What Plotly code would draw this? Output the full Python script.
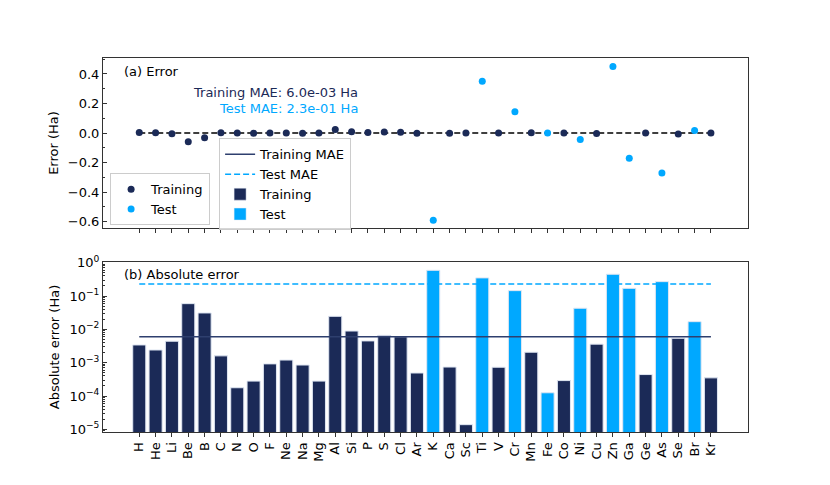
import numpy as np
import plotly.graph_objects as go
from plotly.subplots import make_subplots

# data
elements = ["H", "He", "Li", "Be", "B", "C", "N", "O", "F", "Ne", "Na", "Mg",
            "Al", "Si", "P", "S", "Cl", "Ar", "K", "Ca", "Sc", "Ti", "V", "Cr",
            "Mn", "Fe", "Co", "Ni", "Cu", "Zn", "Ga", "Ge", "As", "Se", "Br", "Kr"]
errors = [0.0034, 0.0024, -0.0044, -0.059, -0.031, 0.0016, 0.000177, -0.00028,
          0.00092, 0.0012, -0.00085, 0.00028, 0.0246, 0.0089, 0.0045, 0.0066,
          0.0060, -0.00049, -0.59, -0.00074, 0.0000138, 0.35, 0.00073, 0.145,
          0.00206, 0.000125, 0.00029, -0.043, -0.0036, 0.45, -0.17, 0.00044,
          -0.27, -0.0054, 0.017, 0.00035]
test_set = ["K", "Ti", "Cr", "Fe", "Ni", "Zn", "Ga", "As", "Br"]
train_mae = 6.0e-3
test_mae = 2.3e-1

navy = "#1b2a57"
light = "#00a8ff"
font = "DejaVu Sans"

abs_err = np.abs(errors)
is_test = np.array([e in test_set for e in elements])
el = np.array(elements)
err = np.array(errors)

fig = make_subplots(rows=2, cols=1)

# (a) signed error
fig.add_trace(go.Scatter(x=[elements[0], elements[-1]], y=[0, 0], mode="lines",
                         line=dict(color="black", dash="6px,3px", width=1.5),
                         showlegend=False, hoverinfo="skip"), row=1, col=1)
fig.add_trace(go.Scatter(x=el[~is_test], y=err[~is_test], mode="markers", name="Training",
                         marker=dict(color=navy, size=7), legend="legend"), row=1, col=1)
fig.add_trace(go.Scatter(x=el[is_test], y=err[is_test], mode="markers", name="Test",
                         marker=dict(color=light, size=7), legend="legend"), row=1, col=1)

# (b) absolute error
bar_cols = [light if t else navy for t in is_test]
fig.add_trace(go.Bar(x=elements, y=abs_err, marker=dict(color=bar_cols, line=dict(color="#dfe6f2", width=1)),
                     width=0.8, showlegend=False), row=2, col=1)
fig.add_trace(go.Scatter(x=[elements[0], elements[-1]], y=[train_mae, train_mae], mode="lines",
                         name="Training MAE", line=dict(color="#2e3f6e", width=1.5),
                         legend="legend2"), row=2, col=1)
fig.add_trace(go.Scatter(x=[elements[0], elements[-1]], y=[test_mae, test_mae], mode="lines",
                         name="Test MAE", line=dict(color=light, width=1.5, dash="6px,3px"),
                         legend="legend2"), row=2, col=1)
# legend-only bar entries
fig.add_trace(go.Bar(x=[None], y=[None], name="Training", marker_color=navy,
                     legend="legend2"), row=2, col=1)
fig.add_trace(go.Bar(x=[None], y=[None], name="Test", marker_color=light,
                     legend="legend2"), row=2, col=1)

xrange = [-2.22, 37.27]
frame = dict(showline=True, linecolor="#333", linewidth=1, mirror=True, showgrid=False, zeroline=False)

fig.update_xaxes(range=xrange, categoryorder="array", categoryarray=elements,
                 tickmode="array", tickvals=elements, ticks="outside", ticklen=4,
                 tickcolor="#333", **frame)
fig.update_xaxes(showticklabels=False, row=1, col=1)
fig.update_xaxes(tickangle=-90, tickfont=dict(size=13, color="black"), row=2, col=1)

top_ticks = [0.4, 0.2, 0.0, -0.2, -0.4, -0.6]
top_text = ["%.1f" % v if v >= 0 else "\u2212%.1f" % -v for v in top_ticks]
fig.update_yaxes(range=[-0.642, 0.508], tickvals=top_ticks, ticktext=top_text,
                 ticks="inside", ticklen=4, tickcolor="#333",
                 minor=dict(ticks="inside", ticklen=2, dtick=0.1, tickcolor="#333"),
                 tickfont=dict(size=13, color="black"),
                 title=dict(text="Error (Ha)", font=dict(size=13, color="black"), standoff=6),
                 row=1, col=1, **frame)

log_ticks = [1, 1e-1, 1e-2, 1e-3, 1e-4, 1e-5]
log_text = ["10<sup>0</sup>", "10<sup>\u22121</sup>", "10<sup>\u22122</sup>",
            "10<sup>\u22123</sup>", "10<sup>\u22124</sup>", "10<sup>\u22125</sup>"]
fig.update_yaxes(type="log", range=[-5.08, 0.02], tickvals=log_ticks, ticktext=log_text,
                 ticks="inside", ticklen=4, tickcolor="#333",
                 minor=dict(ticks="inside", ticklen=2, tickcolor="#333", dtick="D1"),
                 tickfont=dict(size=13, color="black"),
                 title=dict(text="Absolute error (Ha)", font=dict(size=13, color="black"), standoff=6),
                 row=2, col=1, **frame)

# page body adds 8px offset, so the figure is a bit smaller than the window
fig.update_layout(
    width=822, height=477,
    margin=dict(l=95, r=82, t=50, b=53),
    plot_bgcolor="white", paper_bgcolor="white",
    font=dict(family=font, size=13, color="black"),
    barmode="overlay",
    yaxis=dict(domain=[0.5455, 1.0]),
    yaxis2=dict(domain=[0.0, 0.4545]),
    legend=dict(x=0.011, y=0.692, xanchor="left", yanchor="top", bgcolor="rgba(255,255,255,0.8)",
                bordercolor="#cccccc", borderwidth=1, font=dict(size=13), tracegroupgap=0),
    legend2=dict(x=0.18, y=0.785, xanchor="left", yanchor="top", bgcolor="rgba(255,255,255,0.8)",
                 bordercolor="#cccccc", borderwidth=1, font=dict(size=13), tracegroupgap=0),
    annotations=[
        dict(text="(a) Error", xref="paper", yref="paper", x=0.03, y=0.965, xanchor="left",
             yanchor="middle", showarrow=False, font=dict(size=13, color="black")),
        dict(text="Training MAE: 6.0e-03 Ha", xref="paper", yref="paper", x=0.398, y=0.909,
             xanchor="right", yanchor="middle", showarrow=False, font=dict(size=13, color=navy)),
        dict(text="Test MAE: 2.3e-01 Ha", xref="paper", yref="paper", x=0.398, y=0.866,
             xanchor="right", yanchor="middle", showarrow=False, font=dict(size=13, color=light)),
        dict(text="(b) Absolute error", xref="paper", yref="paper", x=0.03, y=0.422, xanchor="left",
             yanchor="middle", showarrow=False, font=dict(size=13, color="black")),
    ],
)

fig.write_html("out.html")
